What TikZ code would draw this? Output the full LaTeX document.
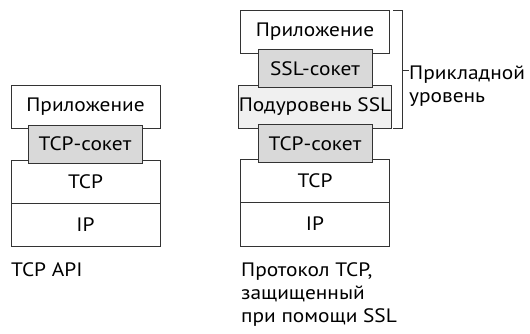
\documentclass[tikz,border=0pt]{standalone}
\usepackage{fontspec}
\setmainfont{PT Sans}[FakeStretch=1.1]
\begin{document}
\begin{tikzpicture}[x=1bp,y=-1bp,
  layer/.style={draw=black!80,line width=0.8bp,minimum width=149bp,minimum height=43bp,inner sep=0pt,font=\fontsize{19.5}{23}\selectfont,fill=white},
  sock/.style={layer,minimum width=114bp,minimum height=38bp,fill=black!15},
  sub/.style={layer,fill=black!6},
  lbl/.style={inner sep=0pt,font=\fontsize{19.5}{23}\selectfont,anchor=base west},
  brk/.style={draw=black!80,line width=0.8bp}]
\useasboundingbox (0,0) rectangle (530,333);
% left stack
\node[layer] (lapp) at (85.5,106.5) {Приложение};
\node[layer] (ltcp) at (85.5,181.5) {TCP};
\node[layer] (lip) at (85.5,224.5) {IP};
\node[sock] (lsock) at (85,144) {TCP-сокет};
\node[lbl] (lcap) at (11,276) {TCP API};
% right stack
\node[layer] (rapp) at (315,32) {Приложение};
\node[sub] (rsub) at (315,106.5) {Подуровень SSL};
\node[layer] (rtcp) at (315,180.5) {TCP};
\node[layer,minimum height=44bp] (rip) at (315,224) {IP};
\node[sock] (rssl) at (315,68.5) {SSL-сокет};
\node[sock] (rsock) at (315,143.5) {TCP-сокет};
\node[lbl] (rcap1) at (241,276) {Протокол TCP,};
\node[lbl] (rcap2) at (241,299) {защищенный};
\node[lbl] (rcap3) at (241,322) {при помощи SSL};
% bracket
\coordinate (bt) at (393,10);
\coordinate (bb) at (393,128);
\coordinate (bm) at (402,70);
\draw[brk] (bt) -- (402,10) -- (402,128) -- (bb);
\draw[brk] (bm) -- (409,70);
\node[lbl] (blbl1) at (409,79) {Прикладной};
\node[lbl] (blbl2) at (409,102) {уровень};
\end{tikzpicture}
\end{document}
